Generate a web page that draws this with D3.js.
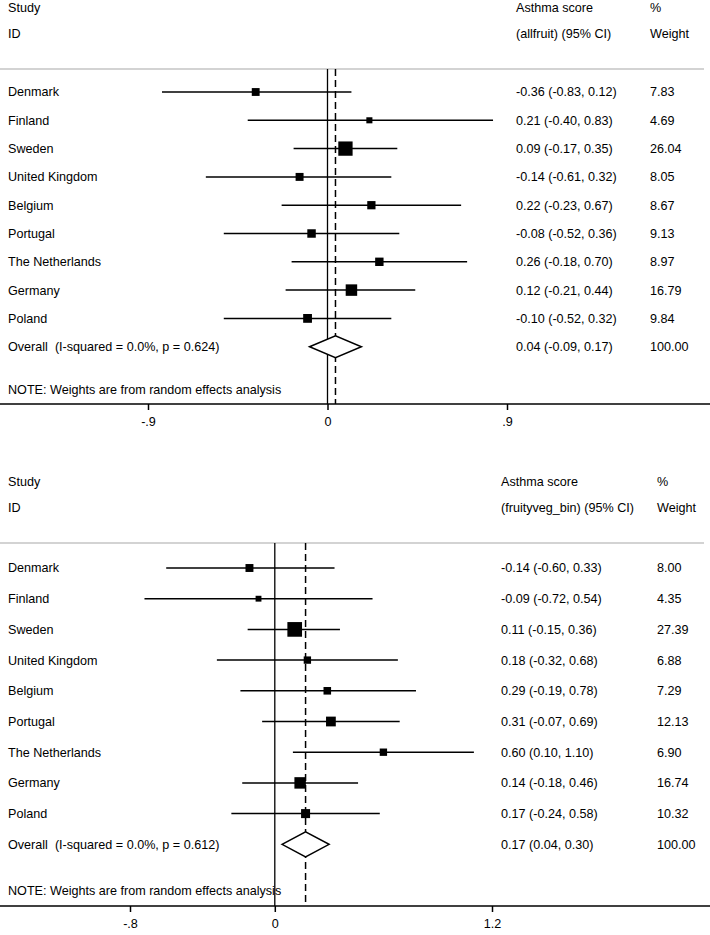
<!DOCTYPE html>
<html>
<head>
<meta charset="utf-8">
<script src="https://cdn.jsdelivr.net/npm/d3@7"></script>
<style>
  body { margin: 0; background: #fff; }
  text { font-family: "Liberation Sans", Arial, sans-serif; font-size: 12.6px; fill: #000; white-space: pre; }
</style>
</head>
<body>
<div id="wrapper"></div>
<script>
// Data
const studies = ["Denmark", "Finland", "Sweden", "United Kingdom", "Belgium",
    "Portugal", "The Netherlands", "Germany", "Poland"]

// panel 1: allfruit
const fruitEst = [-0.36, 0.21, 0.09, -0.14, 0.22, -0.08, 0.26, 0.12, -0.10]
const fruitLo = [-0.83, -0.40, -0.17, -0.61, -0.23, -0.52, -0.18, -0.21, -0.52]
const fruitHi = [0.12, 0.83, 0.35, 0.32, 0.67, 0.36, 0.70, 0.44, 0.32]
const fruitWeight = [7.83, 4.69, 26.04, 8.05, 8.67, 9.13, 8.97, 16.79, 9.84]
const fruitOverall = { est: 0.04, lo: -0.09, hi: 0.17, label: "Overall  (I-squared = 0.0%, p = 0.624)" }
const fruitTicks = [-0.9, 0, 0.9]
const fruitTickLabels = ["-.9", "0", ".9"]

// panel 2: fruityveg_bin
const vegEst = [-0.14, -0.09, 0.11, 0.18, 0.29, 0.31, 0.60, 0.14, 0.17]
const vegLo = [-0.60, -0.72, -0.15, -0.32, -0.19, -0.07, 0.10, -0.18, -0.24]
const vegHi = [0.33, 0.54, 0.36, 0.68, 0.78, 0.69, 1.10, 0.46, 0.58]
const vegWeight = [8.00, 4.35, 27.39, 6.88, 7.29, 12.13, 6.90, 16.74, 10.32]
const vegOverall = { est: 0.17, lo: 0.04, hi: 0.30, label: "Overall  (I-squared = 0.0%, p = 0.612)" }
const vegTicks = [-0.8, 0, 1.2]
const vegTickLabels = ["-.8", "0", "1.2"]

// plain hyphen for negatives, like the original
const fmt = d3.formatLocale({ decimal: ".", thousands: ",", grouping: [3], currency: ["", ""], minus: "-" }).format(".2f")

const dimensions = { width: 710, height: 935 }

const wrapper = d3.select("#wrapper")
    .append("svg")
    .attr("width", dimensions.width)
    .attr("height", dimensions.height)

function drawForest(p) {
    const g = wrapper.append("g")
        .attr("transform", `translate(0, ${p.top})`)

    const rows = studies.map((s, i) => ({
        name: s, est: p.est[i], lo: p.lo[i], hi: p.hi[i], w: p.weight[i], i: i
    }))

    // scales
    const xScale = d3.scaleLinear()
        .domain([p.ticks[0], p.ticks[2]])
        .range(p.xRange)
    const yScale = d3.scaleLinear()
        .domain([0, 9])
        .range([p.firstRow, p.firstRow + 9 * p.rowStep])
    const sizeScale = d3.scaleSqrt()
        .domain([0, 26.04])
        .range([0, 14.3])

    // header
    g.append("text").attr("x", 8).attr("y", 8).attr("dy", "0.35em").text("Study")
    g.append("text").attr("x", 8).attr("y", 34).attr("dy", "0.35em").text("ID")
    g.append("text").attr("x", p.colEst).attr("y", 8).attr("dy", "0.35em").text("Asthma score")
    g.append("text").attr("x", p.colEst).attr("y", 34).attr("dy", "0.35em").text(p.estHeader)
    g.append("text").attr("x", p.colW).attr("y", 8).attr("dy", "0.35em").text("%")
    g.append("text").attr("x", p.colW).attr("y", 34).attr("dy", "0.35em").text("Weight")

    g.append("line")
        .attr("x1", 0).attr("x2", 704)
        .attr("y1", p.sep).attr("y2", p.sep)
        .attr("stroke", "#c4c4c4").attr("stroke-width", 1.5)

    // null line and overall line
    g.append("line")
        .attr("x1", xScale(0)).attr("x2", xScale(0))
        .attr("y1", p.sep).attr("y2", p.axisY)
        .attr("stroke", "#000").attr("stroke-width", 1.3)
    g.append("line")
        .attr("x1", xScale(p.overall.est)).attr("x2", xScale(p.overall.est))
        .attr("y1", p.sep).attr("y2", p.axisY)
        .attr("stroke", "#000").attr("stroke-width", 1.5)
        .attr("stroke-dasharray", "7,4")

    // CI lines
    g.append("g")
        .selectAll("line")
        .data(rows)
        .join("line")
            .attr("x1", d => xScale(d.lo))
            .attr("x2", d => xScale(d.hi))
            .attr("y1", d => yScale(d.i))
            .attr("y2", d => yScale(d.i))
            .attr("stroke", "#000")
            .attr("stroke-width", 1.5)

    // weight squares
    g.append("g")
        .selectAll("rect")
        .data(rows)
        .join("rect")
            .attr("x", d => xScale(d.est) - sizeScale(d.w) / 2)
            .attr("y", d => yScale(d.i) - sizeScale(d.w) / 2)
            .attr("width", d => sizeScale(d.w))
            .attr("height", d => sizeScale(d.w))
            .attr("fill", "#000")

    // study labels and values
    g.append("g")
        .selectAll("text")
        .data(rows)
        .join("text")
            .attr("x", 8)
            .attr("y", d => yScale(d.i))
            .attr("dy", "0.35em")
            .text(d => d.name)
    g.append("g")
        .selectAll("text")
        .data(rows)
        .join("text")
            .attr("x", p.colEst)
            .attr("y", d => yScale(d.i))
            .attr("dy", "0.35em")
            .text(d => `${fmt(d.est)} (${fmt(d.lo)}, ${fmt(d.hi)})`)
    g.append("g")
        .selectAll("text")
        .data(rows)
        .join("text")
            .attr("x", p.colW)
            .attr("y", d => yScale(d.i))
            .attr("dy", "0.35em")
            .text(d => fmt(d.w))

    // overall diamond
    const oy = yScale(9)
    const h = p.diamondH
    g.append("path")
        .attr("d", `M${xScale(p.overall.lo)},${oy} L${xScale(p.overall.est)},${oy - h} L${xScale(p.overall.hi)},${oy} L${xScale(p.overall.est)},${oy + h} Z`)
        .attr("fill", "#fff")
        .attr("stroke", "#000")
        .attr("stroke-width", 1.5)
    g.append("text").attr("x", 8).attr("y", oy).attr("dy", "0.35em").text(p.overall.label)
    g.append("text").attr("x", p.colEst).attr("y", oy).attr("dy", "0.35em")
        .text(`${fmt(p.overall.est)} (${fmt(p.overall.lo)}, ${fmt(p.overall.hi)})`)
    g.append("text").attr("x", p.colW).attr("y", oy).attr("dy", "0.35em").text("100.00")

    g.append("text").attr("x", 8).attr("y", p.noteY).attr("dy", "0.35em")
        .text("NOTE: Weights are from random effects analysis")

    // x axis
    const xAxisGenerator = d3.axisBottom()
        .scale(xScale)
        .tickValues(p.ticks)
        .tickFormat((d, i) => p.tickLabels[i])
        .tickSize(6)
        .tickPadding(7)
    const xAxis = g.append("g")
        .attr("transform", `translate(0, ${p.axisY})`)
        .call(xAxisGenerator)
    xAxis.select(".domain").remove()
    xAxis.selectAll(".tick line").attr("stroke", "#000").attr("stroke-width", 1.5)
    xAxis.selectAll(".tick text")
        .style("font-family", "'Liberation Sans', Arial, sans-serif")
        .style("font-size", "12.6px")
    g.append("line")
        .attr("x1", 0).attr("x2", 710)
        .attr("y1", p.axisY).attr("y2", p.axisY)
        .attr("stroke", "#000").attr("stroke-width", 1.5)
}

drawForest({
    top: 0, est: fruitEst, lo: fruitLo, hi: fruitHi, weight: fruitWeight,
    overall: fruitOverall, ticks: fruitTicks, tickLabels: fruitTickLabels,
    xRange: [148, 507], firstRow: 92, rowStep: 28.3, sep: 69, noteY: 390, axisY: 404,
    colEst: 516, colW: 650, estHeader: "(allfruit) (95% CI)", diamondH: 11
})

drawForest({
    top: 474, est: vegEst, lo: vegLo, hi: vegHi, weight: vegWeight,
    overall: vegOverall, ticks: vegTicks, tickLabels: vegTickLabels,
    xRange: [130, 492], firstRow: 94, rowStep: 30.7, sep: 69, noteY: 417, axisY: 432,
    colEst: 501, colW: 657, estHeader: "(fruityveg_bin) (95% CI)", diamondH: 12.5
})
</script>
</body>
</html>
